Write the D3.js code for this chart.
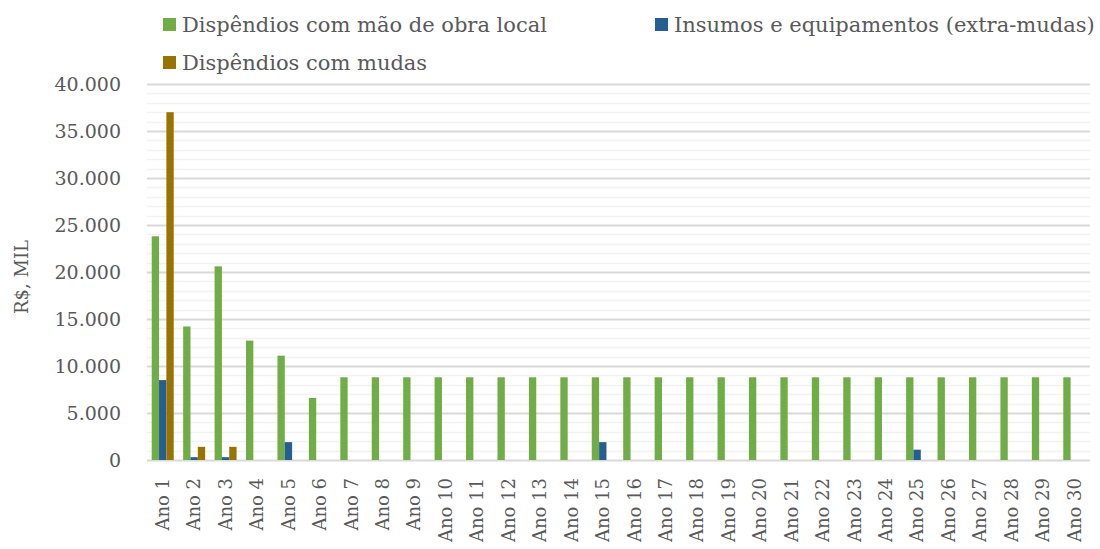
<!DOCTYPE html>
<html>
<head>
<meta charset="utf-8">
<script src="https://cdn.jsdelivr.net/npm/d3@7"></script>
<style>
  html, body { margin: 0; padding: 0; background: #fff; }
  svg { display: block; font-family: "DejaVu Serif", serif; }
</style>
</head>
<body>
<svg id="chart" width="1100" height="549"></svg>
<script>
const years = d3.range(1, 31).map((i) => `Ano ${i}`);

const seriesNames = [
  "Dispêndios com mão de obra local",
  "Insumos e equipamentos (extra-mudas)",
  "Dispêndios com mudas"
];
const seriesColors = ["#70ad47", "#255e91", "#997300"];

const maoDeObra = [23800, 14200, 20600, 12700, 11100, 6600, 8800, 8800, 8800, 8800,
  8800, 8800, 8800, 8800, 8800, 8800, 8800, 8800, 8800, 8800,
  8800, 8800, 8800, 8800, 8800, 8800, 8800, 8800, 8800, 8800];
const insumos = [8500, 300, 300, 0, 1900, 0, 0, 0, 0, 0,
  0, 0, 0, 0, 1900, 0, 0, 0, 0, 0,
  0, 0, 0, 0, 1100, 0, 0, 0, 0, 0];
const mudas = [37000, 1400, 1400, 0, 0, 0, 0, 0, 0, 0,
  0, 0, 0, 0, 0, 0, 0, 0, 0, 0,
  0, 0, 0, 0, 0, 0, 0, 0, 0, 0];

const yTicks = [0, 5000, 10000, 15000, 20000, 25000, 30000, 35000, 40000];

const series = [maoDeObra, insumos, mudas];
const textColor = "#595959";

const svg = d3.select("#chart");
const margin = { top: 84, left: 147 };
const plotW = 1090 - margin.left;
const plotH = 460 - margin.top;

const ptBR = d3.formatLocale({ decimal: ",", thousands: ".", grouping: [3], currency: ["R$", ""] });
const fmt = ptBR.format(",d");

const x0 = d3.scaleBand().domain(years).range([0, plotW]).paddingInner(0.3).paddingOuter(0.15);
const x1 = d3.scaleBand().domain(d3.range(series.length)).range([0, x0.bandwidth()]);
const y = d3.scaleLinear().domain([0, 40000]).range([plotH, 0]);

const g = svg.append("g").attr("transform", `translate(${margin.left},${margin.top})`);

// minor grid
g.append("g")
  .selectAll("line")
  .data(d3.range(0, 40001, 1000).filter((v) => v % 5000 !== 0))
  .join("line")
  .attr("x1", 0).attr("x2", plotW)
  .attr("y1", (d) => Math.round(y(d)) + 0.5).attr("y2", (d) => Math.round(y(d)) + 0.5)
  .attr("stroke", "#f2f2f2").attr("stroke-width", 1.3);

// major grid
g.append("g")
  .selectAll("line")
  .data(yTicks)
  .join("line")
  .attr("x1", 0).attr("x2", plotW)
  .attr("y1", (d) => Math.round(y(d)) + 0.5).attr("y2", (d) => Math.round(y(d)) + 0.5)
  .attr("stroke", "#d9d9d9").attr("stroke-width", 1.8);

// bars
const groups = g.append("g")
  .selectAll("g")
  .data(years)
  .join("g")
  .attr("transform", (d) => `translate(${x0(d)},0)`);

groups.selectAll("rect")
  .data((d, i) => series.map((s, k) => ({ k, v: s[i] })).filter((e) => e.v > 0))
  .join("rect")
  .attr("x", (d) => x1(d.k))
  .attr("width", x1.bandwidth())
  .attr("y", (d) => y(d.v))
  .attr("height", (d) => y(0) - y(d.v))
  .attr("fill", (d) => seriesColors[d.k]);

// y axis labels
const yAxis = g.append("g")
  .call(d3.axisLeft(y).tickValues(yTicks).tickFormat(fmt).tickSize(0).tickPadding(26));
yAxis.select(".domain").remove();
yAxis.selectAll("text")
  .attr("fill", textColor)
  .style("font-family", "DejaVu Serif")
  .style("font-size", "19px");

// x axis labels
const xAxis = g.append("g")
  .attr("transform", `translate(0,${plotH})`)
  .call(d3.axisBottom(x0).tickSize(0));
xAxis.select(".domain").remove();
xAxis.selectAll("text")
  .attr("fill", textColor)
  .style("font-family", "DejaVu Serif")
  .style("font-size", "18px")
  .attr("transform", "rotate(-90)")
  .attr("text-anchor", "end")
  .attr("x", -18)
  .attr("y", 0)
  .attr("dy", "0.35em");

// y axis title
svg.append("text")
  .attr("transform", "translate(28,277) rotate(-90)")
  .attr("text-anchor", "middle")
  .attr("fill", textColor)
  .style("font-size", "18px")
  .text("R$, MIL");

// legend
const legendItems = [
  { x: 163, y: 18 },
  { x: 655, y: 18 },
  { x: 163, y: 56 }
];
const legend = svg.append("g")
  .selectAll("g")
  .data(seriesNames)
  .join("g")
  .attr("transform", (d, i) => `translate(${legendItems[i].x},${legendItems[i].y})`);
legend.append("rect")
  .attr("width", 13).attr("height", 13)
  .attr("fill", (d, i) => seriesColors[i]);
legend.append("text")
  .attr("x", 19).attr("y", 13.5)
  .attr("fill", textColor)
  .style("font-size", "21px")
  .text((d) => d);
</script>
</body>
</html>
